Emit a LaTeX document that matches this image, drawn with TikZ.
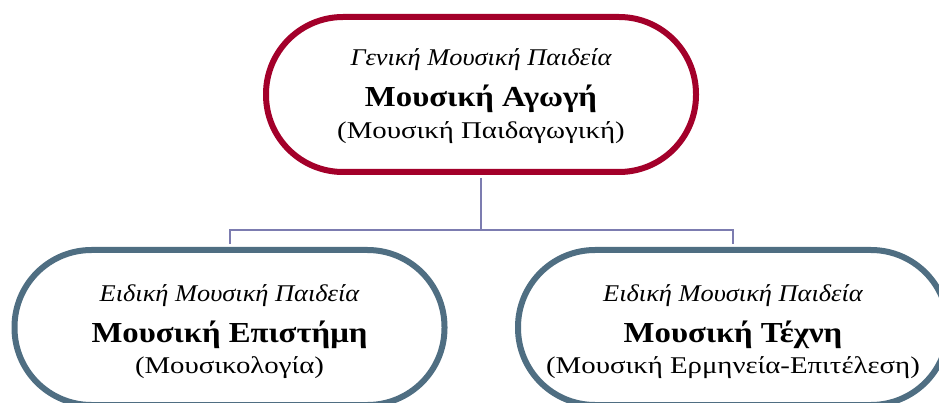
\documentclass[tikz,border=0pt]{standalone}
\usepackage{fontspec}
\setmainfont{Liberation Serif}
\definecolor{topred}{HTML}{A3002A}
\definecolor{botblue}{HTML}{4F6E82}
\definecolor{linkc}{HTML}{7C7CB0}
\begin{document}
\begin{tikzpicture}[x=1pt,y=-1pt,
  pill/.style={draw, line width=6pt, rounded corners=77pt, minimum width=430pt, minimum height=155pt, inner sep=0pt, fill=white},
  itline/.style={font=\fontsize{24}{28}\selectfont\itshape\addfontfeature{FakeStretch=1.10}, anchor=base, inner sep=0pt},
  bfline/.style={font=\fontsize{29}{33}\selectfont\bfseries\addfontfeature{FakeStretch=1.13}, anchor=base, inner sep=0pt},
  rmline/.style={font=\fontsize{24}{28}\selectfont\addfontfeature{FakeStretch=1.2}, anchor=base, inner sep=0pt},
  link/.style={draw=linkc, line width=2pt}]
\useasboundingbox (0,0) rectangle (939,403);
\node[pill, draw=topred] (top) at (481,94.5) {};
\node[pill, draw=botblue] (left) at (229.5,327.5) {};
\node[pill, draw=botblue] (right) at (733,327.5) {};
\coordinate (j) at (481,230);
\draw[link, shorten <=3pt] (top.south) -- (j);
\draw[link, shorten <=3pt] (left.north) |- (j);
\draw[link, shorten <=3pt] (right.north) |- (j);
\node[itline] (t1) at (481,65.7) {Γενική Μουσική Παιδεία};
\node[bfline] (t2) at (481,107) {Μουσική Αγωγή};
\node[rmline] (t3) at (481,138.5) {(Μουσική Παιδαγωγική)};
\node[itline] (l1) at (229.5,301) {Ειδική Μουσική Παιδεία};
\node[bfline] (l2) at (229.5,342) {Μουσική Επιστήμη};
\node[rmline] (l3) at (229.5,373.5) {(Μουσικολογία)};
\node[itline] (r1) at (733,301) {Ειδική Μουσική Παιδεία};
\node[bfline] (r2) at (733,342) {Μουσική Τέχνη};
\node[rmline] (r3) at (733,373.5) {(Μουσική Ερμηνεία-Επιτέλεση)};
\end{tikzpicture}
\end{document}
